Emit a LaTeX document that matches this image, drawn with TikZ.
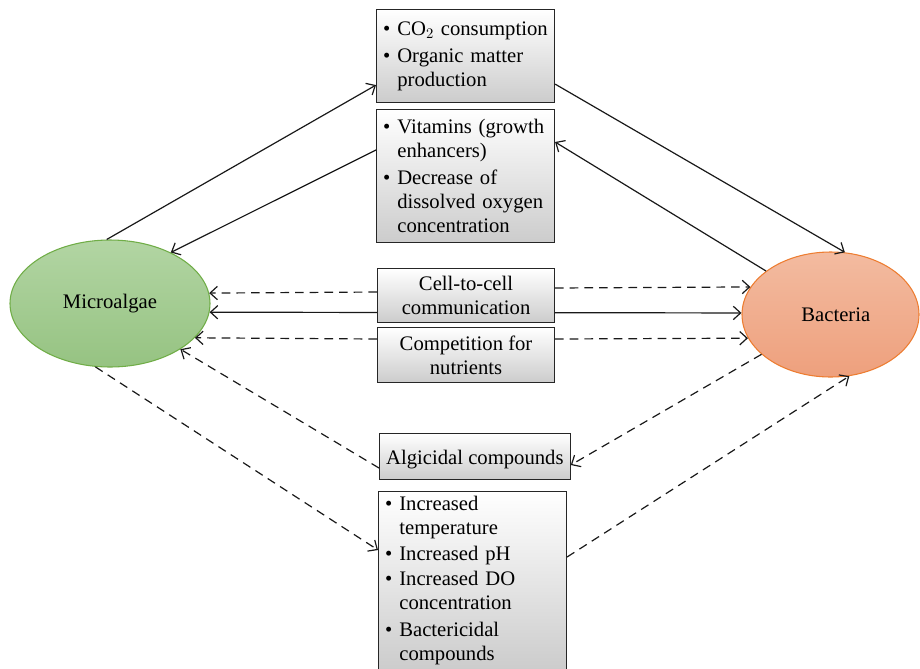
\documentclass[tikz,border=0pt]{standalone}
\usepackage{fontspec}
\setmainfont{Liberation Serif}
\usetikzlibrary{arrows.meta,calc,shapes.geometric}
\begin{document}
\begin{tikzpicture}[x=0.75pt,y=-0.75pt,
  font=\fontsize{15.5}{18}\selectfont,
  tip/.style={-{Straight Barb[length=5.5pt,width=10pt]}},
  conn/.style={tip,line width=0.9pt,draw=black!90},
  dconn/.style={conn,dash pattern=on 6.5pt off 4.5pt},
  infobox/.style={draw=black!85,line width=0.8pt,inner xsep=5pt,inner ysep=0pt,anchor=north west,
    top color=white,bottom color=black!20},
  listbox/.style={infobox,align=left},
  ellcommon/.style={ellipse,inner sep=0pt,line width=0.8pt}]
\useasboundingbox (0,0) rectangle (920,668);
\clip (0,0) rectangle (920,668);
\node[ellcommon,minimum width=150pt,minimum height=95.25pt,draw={rgb,255:red,112;green,173;blue,71},
  top color={rgb,255:red,178;green,213;blue,163},bottom color={rgb,255:red,150;green,195;blue,130}] (ma) at (110,303.5) {Microalgae};
\node[ellcommon,minimum width=132.75pt,minimum height=93.75pt,draw={rgb,255:red,237;green,125;blue,49},
  top color={rgb,255:red,243;green,187;blue,160},bottom color={rgb,255:red,238;green,160;blue,125}] (bac) at (830.5,314.5) {\hspace*{8pt}Bacteria};
% solid double line behind the box
\draw[conn,{Straight Barb[length=5.5pt,width=10pt]}-{Straight Barb[length=5.5pt,width=10pt]}] (ma.-5.5) -- (bac.179);
\node[listbox,minimum width=133.5pt,minimum height=69.75pt,text width=123.5pt] (b1) at (376,9)
  {\textbullet\ CO$_2$ consumption\\[2pt]\textbullet\ Organic matter\\\phantom{\textbullet\ }production};
\node[listbox,minimum width=133.5pt,minimum height=99.75pt,text width=123.5pt] (b2) at (376,109)
  {\textbullet\ Vitamins (growth\\\phantom{\textbullet\ }enhancers)\\[2pt]\textbullet\ Decrease of\\\phantom{\textbullet\ }dissolved oxygen\\\phantom{\textbullet\ }concentration};
\node[infobox,minimum width=132.75pt,minimum height=40.5pt,align=center] (b3) at (377,268)
  {Cell-to-cell\\communication};
\node[infobox,minimum width=132.75pt,minimum height=41.25pt] (b4) at (377,327)
  {\raisebox{-2.25pt}[\height][\depth]{\begin{tabular}{@{}c@{}}Competition for\\nutrients\end{tabular}}};
\node[infobox,minimum width=140.25pt,minimum height=34.5pt] (b5) at (379,433)
  {\raisebox{-2.25pt}[\height][\depth]{Algicidal compounds}};
\node[listbox,minimum width=141pt,minimum height=133.5pt,text width=131pt] (b6) at (378,491)
  {\textbullet\ Increased\\\phantom{\textbullet\ }temperature\\[1pt]\textbullet\ Increased pH\\[1pt]\textbullet\ Increased DO\\\phantom{\textbullet\ }concentration\\[2pt]\textbullet\ Bactericidal\\\phantom{\textbullet\ }compounds};
% connectors
\draw[conn] (ma.93) -- ($(b1.south west)+(0,-18)$);
\draw[conn] ($(b1.south east)+(0,-19)$) -- (bac.77);
\draw[conn] (bac.146) -- ($(b2.north east)+(0,33)$);
\draw[conn] ($(b2.north west)+(0,41)$) -- (ma.40);
\draw[dconn] ($(b3.north west)+(0,24)$) -- (ma.6.5);
\draw[dconn] ($(b3.north east)+(0,20)$) -- (bac.161.5);
\draw[dconn] ($(b4.north west)+(0,12)$) -- (ma.-22.4);
\draw[dconn] ($(b4.north east)+(0,12)$) -- (bac.196.8);
\draw[dconn] ($(b5.north west)+(0,35)$) -- (ma.-33);
\draw[dconn] (bac.210.8) -- ($(b5.north east)+(0,32)$);
\draw[dconn] (ma.-103.3) -- ($(b6.north west)+(0,59)$);
\draw[dconn] ($(b6.north east)+(0,66)$) -- (bac.-73.8);
\end{tikzpicture}
\end{document}
